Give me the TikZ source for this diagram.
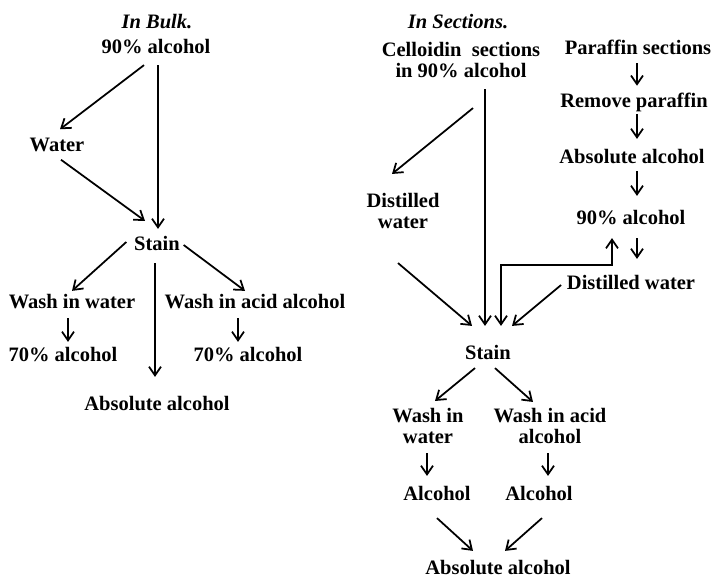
\documentclass[tikz,border=0pt]{standalone}
\usepackage{fontspec}
\setmainfont{Liberation Serif}
\usetikzlibrary{arrows.meta}
\begin{document}
\begin{tikzpicture}[x=0.3mm,y=-0.3mm,line width=1.5pt,
    >={Straight Barb[length=2.6mm,width=3.6mm]},
    txt/.style={font=\fontsize{17.5}{18.7}\selectfont\bfseries,align=center,inner sep=0pt},
    head/.style={font=\fontsize{17.5}{18.7}\selectfont\bfseries\itshape,inner sep=0pt}]
 \useasboundingbox (0,0) rectangle (711,582);
 \node[head] (bulk) at (157,22) {In Bulk.};
 \node[txt] (alcA) at (156,47) {90\% alcohol};
 \node[txt] (waterA) at (57,145) {Water};
 \node[txt] (stainA) at (157,243) {Stain};
 \node[txt] (washA) at (72,302) {Wash in water};
 \node[txt] (acidA) at (255,302) {Wash in acid alcohol};
 \node[txt] (seventyA) at (63,355) {70\% alcohol};
 \node[txt] (seventyB) at (248,355) {70\% alcohol};
 \node[txt] (absA) at (157,404) {Absolute alcohol};
    \draw [->] ([shift={(-12,10)}]alcA.south) -- ([shift={(3,-8)}]waterA.north);
    \draw [->] ([shift={(2,10)}]alcA.south) -- ([shift={(1,-6)}]stainA.north);
    \draw [->] ([shift={(4,7)}]waterA.south) -- ([shift={(-12,-14)}]stainA.north);
    \draw [->] ([shift={(-7,-1)}]stainA.west) -- ([shift={(0,-3)}]washA.north);
    \draw [->] ([shift={(3,2)}]stainA.east) -- ([shift={(-10,-3)}]acidA.north);
    \draw [->] ([shift={(-2,12)}]stainA.south) -- ([shift={(-2,-19)}]absA.north);
    \draw [->] ([shift={(-4,8)}]washA.south) -- ([shift={(5,-5)}]seventyA.north);
    \draw [->] ([shift={(-17,8)}]acidA.south) -- ([shift={(-10,-5)}]seventyB.north);
 \node[head] (sect) at (458,22) {In Sections.};
 \node[txt] (cell) at (461,60) {Celloidin\ \ sections\\in 90\% alcohol};
 \node[txt] (para) at (638,47) {Paraffin sections};
 \node[txt] (remove) at (634,102) {Remove paraffin};
 \node[txt] (absB) at (632,157) {Absolute alcohol};
 \node[txt] (alcB) at (631,218) {90\% alcohol};
 \node[txt] (distR) at (631,282) {Distilled water};
 \node[txt] (distL) at (403,211) {Distilled\\water};
 \node[txt] (stainB) at (488,352) {Stain};
 \node[txt] (washB) at (428,426) {Wash in\\water};
 \node[txt] (acidB) at (550,426) {Wash in acid\\alcohol};
 \node[txt] (alcC) at (437,493) {Alcohol};
 \node[txt] (alcD) at (539,493) {Alcohol};
 \node[txt] (absC) at (498,568) {Absolute alcohol};
    \draw [->] ([shift={(-1,8)}]para.south) -- ([shift={(3,-6)}]remove.north);
    \draw [->] ([shift={(3,2)}]remove.south) -- ([shift={(5,-10)}]absB.north);
    \draw [->] ([shift={(5,6)}]absB.south) -- ([shift={(6,-14)}]alcB.north);
    \draw [->] ([shift={(6,12)}]alcB.south) -- ([shift={(6,-15)}]distR.north);
    \draw [<->] ([shift={(13,-18)}]stainB.north) |- ([shift={(-19,39)}]alcB.south) -- ([shift={(-19,12)}]alcB.south);
    \draw [->] ([shift={(12,29)}]cell.south) -- ([shift={(-11,-18)}]distL.north);
    \draw [->] ([shift={(24,10)}]cell.south) -- ([shift={(-3,-18)}]stainB.north);
    \draw [->] ([shift={(-5,33)}]distL.south) -- ([shift={(-16,-18)}]stainB.north);
    \draw [->] ([shift={(-5,3)}]distR.west) -- ([shift={(24,-18)}]stainB.north);
    \draw [->] ([shift={(-13,8)}]stainB.south) -- ([shift={(7,-6)}]washB.north);
    \draw [->] ([shift={(7,8)}]stainB.south) -- ([shift={(-17,-5)}]acidB.north);
    \draw [->] ([shift={(-1,8)}]washB.south) -- ([shift={(-10,-9)}]alcC.north);
    \draw [->] ([shift={(-2,8)}]acidB.south) -- ([shift={(9,-9)}]alcD.north);
    \draw [->] ([shift={(0,17)}]alcC.south) -- ([shift={(-25,-9)}]absC.north);
    \draw [->] ([shift={(3,17)}]alcD.south) -- ([shift={(7,-9)}]absC.north);
\end{tikzpicture}
\end{document}
